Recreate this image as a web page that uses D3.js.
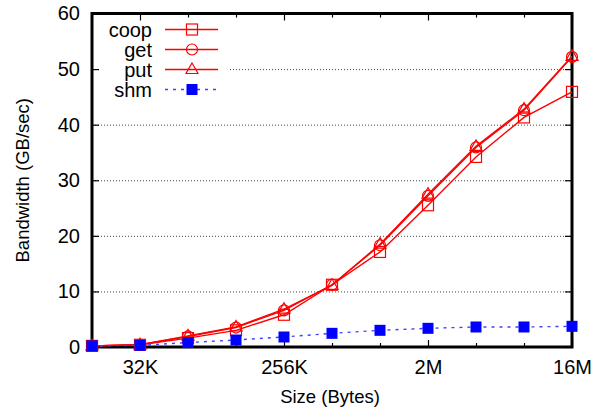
<!DOCTYPE html>
<html>
<head>
<meta charset="utf-8">
<title>Bandwidth vs Size</title>
<script src="https://d3js.org/d3.v7.min.js"></script>
<style>
body {
	margin: 0;
	background-color: white;
}
svg {
	display: block;
	font-family: "Liberation Sans", Arial, sans-serif;
}
.axis text {
	font-size: 20px;
	fill: black;
}
.axis line {
	stroke: black;
	stroke-width: 1.2;
}
.grid line {
	stroke: #444;
	stroke-width: 1;
	stroke-dasharray: 1,2;
}
.title {
	font-size: 18.5px;
	fill: black;
}
.legend text {
	font-size: 20px;
	fill: black;
}
</style>
</head>
<body>
<div id="chart"></div>
<script>
"use strict";
// message sizes in bytes, 16K .. 16M
const sizes = [16384, 32768, 65536, 131072, 262144, 524288,
	1048576, 2097152, 4194304, 8388608, 16777216];
const xTickValues = [32768, 262144, 2097152, 16777216];
const xTickLabels = ["32K", "256K", "2M", "16M"];
const yTickValues = [0, 10, 20, 30, 40, 50, 60];
const seriesNames = ["coop", "get", "put", "shm"];
const coop = [0.2, 0.4, 1.6, 3.0, 5.8, 11.2, 17.1, 25.5, 34.2, 41.3, 45.9];
const get  = [0.2, 0.4, 1.9, 3.5, 6.6, 11.2, 18.3, 27.2, 35.9, 42.6, 52.2];
const put  = [0.2, 0.4, 2.0, 3.6, 6.8, 11.1, 18.5, 27.5, 36.1, 42.8, 52.3];
const shm  = [0.2, 0.3, 0.8, 1.26, 1.8, 2.46, 3.0, 3.36, 3.6, 3.6, 3.72];

(function() {
const W = 604, H = 411;
const pl = 92, pr = 572, pt = 13.5, pb = 347;

const svg = d3.select("#chart").append("svg")
	.attr("width", W)
	.attr("height", H);
svg.append("rect").attr("width", W).attr("height", H).attr("fill", "white");

const x = d3.scaleLog().base(2).domain([sizes[0], sizes[sizes.length - 1]]).range([pl, pr]);
const y = d3.scaleLinear().domain([0, 60]).range([pb, pt]);

// dotted horizontal grid
svg.append("g")
	.attr("class", "grid")
	.attr("transform", `translate(${pl},0)`)
	.call(d3.axisLeft(y).tickValues([10, 20, 30, 40, 50]).tickSize(-(pr - pl)).tickFormat(""))
	.call(g => g.select(".domain").remove());

// legend box (opaque, hides grid)
const legend = svg.append("g").attr("class", "legend");
legend.append("rect")
	.attr("x", 100).attr("y", 19)
	.attr("width", 128).attr("height", 80)
	.attr("fill", "white");

// axes: ticks point inward
const minor = sizes.filter(s => !xTickValues.includes(s));
const labelOf = d => xTickLabels[xTickValues.indexOf(d)];

svg.append("g").attr("class", "axis")
	.attr("transform", `translate(0,${pb})`)
	.call(d3.axisBottom(x).tickValues(xTickValues).tickSize(-7).tickSizeOuter(0)
		.tickPadding(13).tickFormat(labelOf));
svg.append("g").attr("class", "axis")
	.attr("transform", `translate(0,${pb})`)
	.call(d3.axisBottom(x).tickValues(minor).tickSize(-4).tickSizeOuter(0).tickFormat(""));
svg.append("g").attr("class", "axis")
	.attr("transform", `translate(0,${pt})`)
	.call(d3.axisTop(x).tickValues(xTickValues).tickSize(-7).tickSizeOuter(0).tickFormat(""));
svg.append("g").attr("class", "axis")
	.attr("transform", `translate(0,${pt})`)
	.call(d3.axisTop(x).tickValues(minor).tickSize(-4).tickSizeOuter(0).tickFormat(""));
svg.append("g").attr("class", "axis")
	.attr("transform", `translate(${pl},0)`)
	.call(d3.axisLeft(y).tickValues(yTickValues).tickSize(-7).tickSizeOuter(0).tickPadding(12));
svg.append("g").attr("class", "axis")
	.attr("transform", `translate(${pr},0)`)
	.call(d3.axisRight(y).tickValues(yTickValues).tickSize(-7).tickSizeOuter(0).tickFormat(""));
svg.selectAll(".axis .domain").remove();
svg.selectAll(".axis").attr("font-family", null).attr("font-size", null);

// frame
svg.append("rect")
	.attr("x", pl).attr("y", pt)
	.attr("width", pr - pl).attr("height", pb - pt)
	.attr("fill", "none").attr("stroke", "black").attr("stroke-width", 3);

// titles
svg.append("text").attr("class", "title")
	.attr("x", (pl + pr) / 2 - 2).attr("y", 403)
	.attr("text-anchor", "middle")
	.text("Size (Bytes)");
svg.append("text").attr("class", "title")
	.attr("transform", `translate(29,${(pt + pb) / 2}) rotate(-90)`)
	.attr("text-anchor", "middle")
	.text("Bandwidth (GB/sec)");

// markers
const red = "#ff0000", blue = "#0000ff";
function marker(g, kind, cx, cy)
{
	if (kind === "square")
		g.append("rect").attr("x", cx - 5.5).attr("y", cy - 5.5).attr("width", 11).attr("height", 11)
			.attr("fill", "none").attr("stroke", red).attr("stroke-width", 1.2);
	else if (kind === "circle")
		g.append("circle").attr("cx", cx).attr("cy", cy).attr("r", 5.5)
			.attr("fill", "none").attr("stroke", red).attr("stroke-width", 1.2);
	else if (kind === "triangle")
		g.append("path").attr("d", `M${cx},${cy - 6.5}L${cx + 6},${cy + 4}L${cx - 6},${cy + 4}Z`)
			.attr("fill", "none").attr("stroke", red).attr("stroke-width", 1.2);
	else
		g.append("rect").attr("x", cx - 5.5).attr("y", cy - 5.5).attr("width", 11).attr("height", 11)
			.attr("fill", blue);
}

const series = [
	{name: seriesNames[0], values: coop, kind: "square", color: red, dash: null},
	{name: seriesNames[1], values: get, kind: "circle", color: red, dash: null},
	{name: seriesNames[2], values: put, kind: "triangle", color: red, dash: null},
	{name: seriesNames[3], values: shm, kind: "filled", color: "#4040ff", dash: "3,5"},
];

const line = d3.line().x(d => x(d[0])).y(d => y(d[1]));
const plot = svg.append("g");
series.forEach((s, i) => {
	const pts = sizes.map((sz, j) => [sz, s.values[j]]);
	const g = plot.append("g");
	g.append("path")
		.attr("d", line(pts))
		.attr("fill", "none")
		.attr("stroke", s.color)
		.attr("stroke-width", 1.4)
		.attr("stroke-dasharray", s.dash);
	pts.forEach(p => marker(g, s.kind, x(p[0]), y(p[1])));

	// legend entry
	const ly = 29.5 + i * 20;
	legend.append("text")
		.attr("x", 152).attr("y", ly + 7)
		.attr("text-anchor", "end")
		.text(s.name);
	legend.append("line")
		.attr("x1", 165).attr("x2", 218).attr("y1", ly).attr("y2", ly)
		.attr("stroke", s.color)
		.attr("stroke-width", 1.4)
		.attr("stroke-dasharray", s.dash);
	marker(legend, s.kind, 192, ly);
});
})();
</script>
</body>
</html>
